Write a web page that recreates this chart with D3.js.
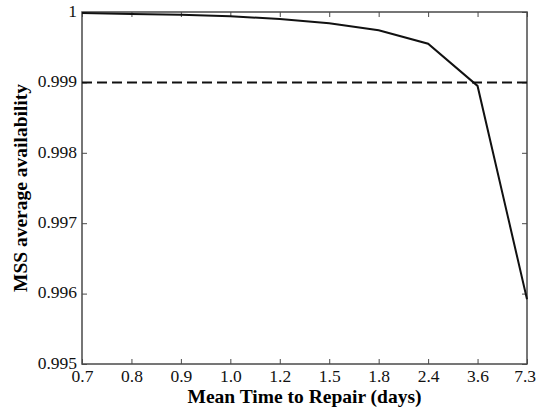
<!DOCTYPE html>
<html><head><meta charset="utf-8">
<script src="https://cdn.jsdelivr.net/npm/d3@7"></script>
<style>body{margin:0;background:#fff}svg{display:block}</style>
</head><body>
<script>
const categories = ["0.7","0.8","0.9","1.0","1.2","1.5","1.8","2.4","3.6","7.3"];
const availability = [0.999986,0.99997,0.99996,0.99994,0.9999,0.99984,0.99974,0.99955,0.99895,0.99592];
const threshold = 0.999;
const yTicks = [0.995,0.996,0.997,0.998,0.999,1];
const yTickLabels = ["0.995","0.996","0.997","0.998","0.999","1"];

const W=536,H=415, m={l:82,r:9,t:12,b:51};
const svg=d3.select("body").append("svg").attr("width",W).attr("height",H);
const x=d3.scalePoint().domain(categories).range([m.l,W-m.r]);
const y=d3.scaleLinear().domain([0.995,1]).range([H-m.b,m.t]);
const font="'Liberation Serif','Times New Roman',serif";
const axisColor="#4a4a4a";

svg.append("rect").attr("x",m.l).attr("y",m.t).attr("width",W-m.r-m.l).attr("height",H-m.b-m.t)
 .attr("fill","none").attr("stroke",axisColor).attr("stroke-width",1.5);

function styleAxis(g){g.select(".domain").remove();g.selectAll(".tick line").attr("stroke",axisColor);g.selectAll("text").attr("font-family",font).attr("font-size",17.5).attr("fill","#111");}

const xb=svg.append("g").attr("transform",`translate(0,${H-m.b})`)
 .call(d3.axisBottom(x).tickSizeInner(-5).tickSizeOuter(0).tickPadding(3)).call(styleAxis);
xb.selectAll("text").attr("y",18).attr("dy",0);
xb.selectAll(".tick").filter(d=>d===categories[categories.length-1]).select("text")
 .attr("text-anchor","end").attr("x",8.5);
svg.append("g").attr("transform",`translate(0,${m.t})`)
 .call(d3.axisTop(x).tickSizeInner(-5).tickSizeOuter(0).tickFormat("")).call(styleAxis);
const yl=svg.append("g").attr("transform",`translate(${m.l},0)`)
 .call(d3.axisLeft(y).tickValues(yTicks).tickFormat((d,i)=>yTickLabels[i]).tickSizeInner(-5).tickSizeOuter(0).tickPadding(5)).call(styleAxis);
yl.selectAll("text").attr("dy","0.25em");
svg.append("g").attr("transform",`translate(${W-m.r},0)`)
 .call(d3.axisRight(y).tickValues(yTicks).tickFormat("").tickSizeInner(-5).tickSizeOuter(0)).call(styleAxis);

svg.append("line").attr("x1",m.l).attr("x2",W-m.r).attr("y1",y(threshold)).attr("y2",y(threshold))
 .attr("stroke","#111").attr("stroke-width",2).attr("stroke-dasharray","10,5");

svg.append("path").datum(categories.map((c,i)=>[c,availability[i]]))
 .attr("fill","none").attr("stroke","#111").attr("stroke-width",2)
 .attr("d",d3.line().x(d=>x(d[0])).y(d=>y(d[1])));

svg.append("text").attr("x",(m.l+W-m.r)/2).attr("y",403).attr("text-anchor","middle")
 .attr("font-family",font).attr("font-weight","bold").attr("font-size",19.5).text("Mean Time to Repair (days)");
svg.append("text").attr("transform",`translate(27,188) rotate(-90)`).attr("text-anchor","middle")
 .attr("font-family",font).attr("font-weight","bold").attr("font-size",19.5).text("MSS average availability");
</script>
</body></html>
